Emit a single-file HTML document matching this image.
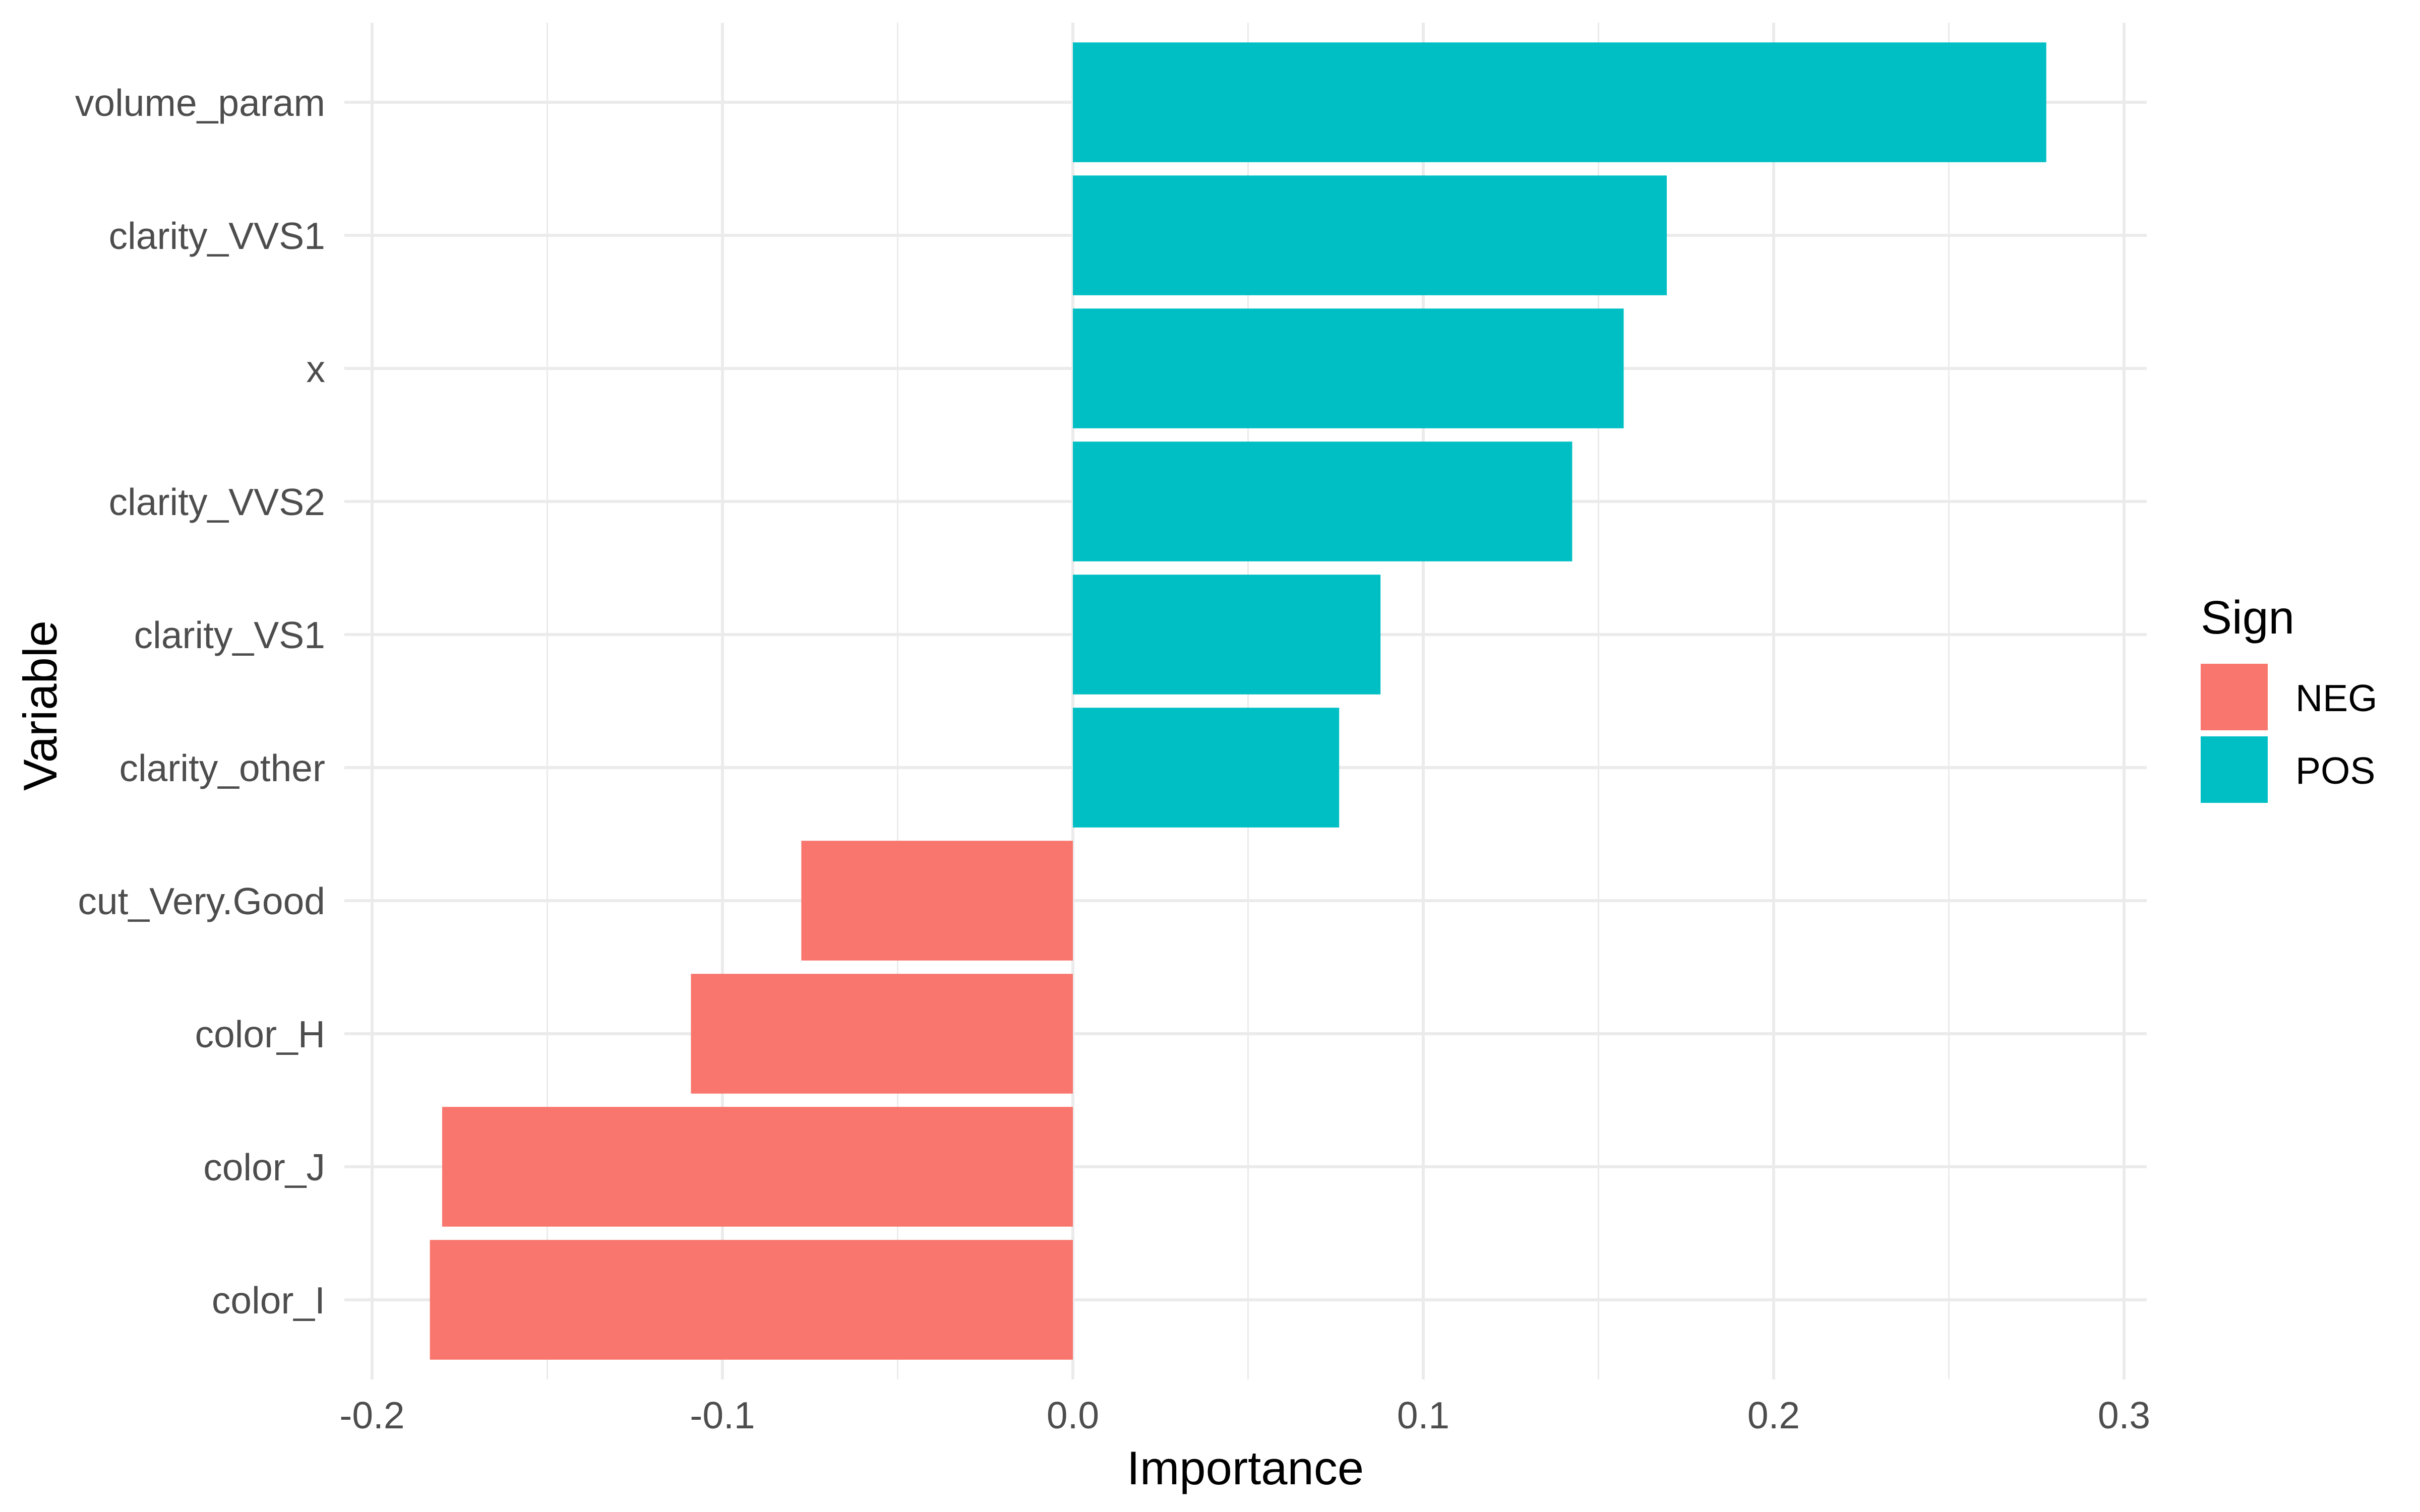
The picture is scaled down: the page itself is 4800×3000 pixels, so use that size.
<!DOCTYPE html>
<html><head><meta charset="utf-8"><style>
html,body{margin:0;padding:0;background:#fff;}
svg{display:block;font-family:"Liberation Sans",Arial,sans-serif;}
</style></head><body>
<svg id="chart" width="4800" height="3000" viewBox="0 0 4800 3000" xmlns="http://www.w3.org/2000/svg">
<rect x="0" y="0" width="4800" height="3000" fill="#fff"/>
<g id="grid"></g>
<g id="bars"></g>
<g id="yticks"></g>
<g id="xticks"></g>
<text x="2470" y="2945" font-size="94" text-anchor="middle" fill="#000">Importance</text>
<text transform="translate(112,1400) rotate(-90)" font-size="94" text-anchor="middle" fill="#000">Variable</text>
<g>
<text x="4365" y="1257" font-size="93" fill="#000">Sign</text>
<rect x="4365" y="1317" width="133" height="132" fill="#F8766D"/>
<text x="4553" y="1411" font-size="75" fill="#000">NEG</text>
<rect x="4365" y="1461" width="133" height="132" fill="#00BFC4"/>
<text x="4553" y="1555" font-size="75" fill="#000">POS</text>
</g>
</svg>
<script>
const categories = ["volume_param","clarity_VVS1","x","clarity_VVS2","clarity_VS1","clarity_other","cut_Very.Good","color_H","color_J","color_I"];
const values = [0.2778, 0.1695, 0.1572, 0.1425, 0.0878, 0.0760, -0.0775, -0.1090, -0.1800, -0.1835];
const xTicks = [-0.2,-0.1,0.0,0.1,0.2,0.3];
const xTickLabels = ["-0.2","-0.1","0.0","0.1","0.2","0.3"];
const xMinor = [-0.15,-0.05,0.05,0.15,0.25];

const NS="http://www.w3.org/2000/svg";
const panelL=683, panelR=4258, panelT=45, panelB=2737;
function xs(v){return 2128 + v*6950;}
const band=264, firstY=203;
function ys(i){return firstY + i*band;}
function mk(tag,attrs,parent){const e=document.createElementNS(NS,tag);for(const k in attrs)e.setAttribute(k,attrs[k]);parent.appendChild(e);return e;}
const grid=document.getElementById('grid'), bars=document.getElementById('bars');
const yt=document.getElementById('yticks'), xt=document.getElementById('xticks');
xMinor.forEach(v=>{
  const l=mk('line',{x1:xs(v),x2:xs(v),y1:panelT,y2:panelB,stroke:'#EBEBEB','stroke-width':3},grid);
  
  
});
xTicks.forEach((v,i)=>{
  const l=mk('line',{x1:xs(v),x2:xs(v),y1:panelT,y2:panelB,stroke:'#EBEBEB','stroke-width':6},grid);
  
  
  const t=mk('text',{x:xs(v),y:2834,'font-size':75,'text-anchor':'middle',fill:'#4D4D4D'},xt);
  t.textContent=xTickLabels[i];
  
  
});
categories.forEach((c,i)=>{
  const y=ys(i);
  const l=mk('line',{x1:panelL,x2:panelR,y1:y,y2:y,stroke:'#EBEBEB','stroke-width':6},grid);
  
  
  const v=values[i];
  const x0=Math.min(xs(0),xs(v)), w=Math.abs(xs(v)-xs(0));
  const r=mk('rect',{x:x0,y:y-band*0.45,width:w,height:band*0.9,fill:v<0?'#F8766D':'#00BFC4'},bars);
  
  
  const t=mk('text',{x:645,y:y+27,'font-size':75,'text-anchor':'end',fill:'#4D4D4D'},yt);
  t.textContent=c;
  
  
});
</script>
</body></html>
